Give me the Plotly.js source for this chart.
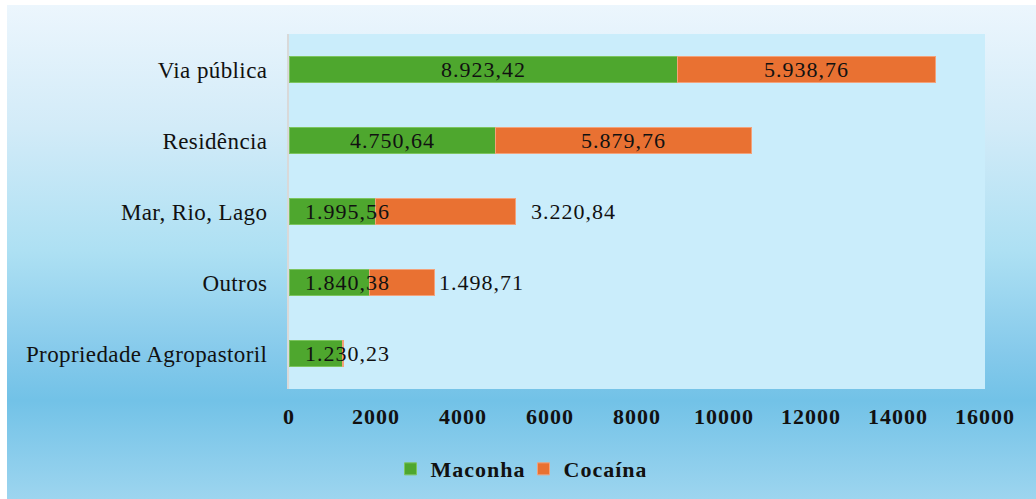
<!DOCTYPE html>
<html>
<head>
<meta charset="utf-8">
<script src="https://cdn.plot.ly/plotly-3.0.1.min.js"></script>
<style>
  html, body { margin: 0; padding: 0; background: #ffffff; }
  #wrap { position: absolute; left: 0; top: 0; width: 1036px; height: 499px; background: #ffffff; }
  #bg { position: absolute; left: 7px; top: 5px; width: 1029px; height: 494px;
        background: linear-gradient(to bottom, #ecf6fd 0%, #d2ebf8 25%, #ade0f3 50%, #86caeb 70%, #72c2e7 80%, #9dd5ef 100%); }
  #chart { position: absolute; left: 0; top: 0; width: 1036px; height: 499px; }
  #chart .ytick text { letter-spacing: 0.4px; }
  #chart .xtick text { letter-spacing: 1px; }
  #chart .annotation-text { letter-spacing: 1px; }
  #chart .legendtext { letter-spacing: 1px; }
</style>
</head>
<body>
<div id="wrap"><div id="bg"></div><div id="chart"></div></div>
<script>
// ---- data ----
const categories = ['Via pública', 'Residência', 'Mar, Rio, Lago', 'Outros', 'Propriedade Agropastoril'];
const maconha = [8923.42, 4750.64, 1995.56, 1840.38, 1230.23];
const cocaina = [5938.76, 5879.76, 3220.84, 1498.71, 22];
const seriesNames = ['Maconha', 'Cocaína'];
const xTicks = [0, 2000, 4000, 6000, 8000, 10000, 12000, 14000, 16000];

// ---- label styling (not data) ----
const macLabelMode = ['center', 'center', 'left', 'left', 'left'];
const cocLabelMode = ['center', 'center', 'outside', 'outside', 'none'];
const cocOutsideShift = [0, 0, 17, 7, 0];

function fmtBR(v) {
  const parts = v.toFixed(2).split('.');
  const intPart = parts[0].replace(/\B(?=(\d{3})+(?!\d))/g, '.');
  return intPart + ',' + parts[1];
}

const serif = 'Liberation Serif';
const green = '#4ea72e';
const orange = '#e97132';

const traces = [
  { type: 'bar', orientation: 'h', name: seriesNames[0], y: categories, x: maconha,
    marker: { color: green, line: { color: '#7cc45f', width: 1 } }, hoverinfo: 'x+y' },
  { type: 'bar', orientation: 'h', name: seriesNames[1], y: categories, x: cocaina,
    marker: { color: orange, line: { color: '#f3a27a', width: 1 } }, hoverinfo: 'x+y' }
];

const labelFont = { family: serif, size: 22, color: '#111111' };
const annotations = [];
categories.forEach((c, i) => {
  const m = macLabelMode[i];
  if (m === 'center') {
    annotations.push({ x: maconha[i] / 2, y: c, xref: 'x', yref: 'y', text: fmtBR(maconha[i]),
      showarrow: false, xanchor: 'center', font: labelFont });
  } else if (m === 'left') {
    annotations.push({ x: 0, y: c, xref: 'x', yref: 'y', text: fmtBR(maconha[i]),
      showarrow: false, xanchor: 'left', xshift: 18, font: labelFont });
  }
  const k = cocLabelMode[i];
  if (k === 'center') {
    annotations.push({ x: maconha[i] + cocaina[i] / 2, y: c, xref: 'x', yref: 'y', text: fmtBR(cocaina[i]),
      showarrow: false, xanchor: 'center', font: labelFont });
  } else if (k === 'outside') {
    annotations.push({ x: maconha[i] + cocaina[i], y: c, xref: 'x', yref: 'y', text: fmtBR(cocaina[i]),
      showarrow: false, xanchor: 'left', xshift: cocOutsideShift[i], font: labelFont });
  }
});

const layout = {
  width: 1036, height: 499,
  margin: { l: 289, r: 51, t: 34, b: 110, pad: 0 },
  paper_bgcolor: 'rgba(0,0,0,0)',
  plot_bgcolor: '#caedfb',
  barmode: 'stack',
  bargap: 0.62,
  showlegend: true,
  legend: { orientation: 'h', traceorder: 'normal', xref: 'container', yref: 'container', x: 0.5, xanchor: 'center', y: 0.06, yanchor: 'middle',
            font: { family: serif, size: 22, color: '#111111', weight: 'bold' }, bgcolor: 'rgba(0,0,0,0)', itemwidth: 30, tracegroupgap: 0 },
  xaxis: { range: [0, 16000], tickvals: xTicks, ticktext: xTicks.map(String), showgrid: false, zeroline: false,
           showline: false, ticks: '', ticklabelstandoff: 12,
           tickfont: { family: serif, size: 22, color: '#111111', weight: 'bold' }, fixedrange: true },
  yaxis: { type: 'category', categoryorder: 'array', categoryarray: categories.slice().reverse(),
           showgrid: false, zeroline: false, showline: true, linecolor: '#d9d9d9', linewidth: 2,
           ticks: '', ticklabelstandoff: 15,
           tickfont: { family: serif, size: 23, color: '#111111' }, fixedrange: true },
  annotations: annotations,
  font: { family: serif, color: '#111111' }
};

Plotly.newPlot('chart', traces, layout, { displayModeBar: false, staticPlot: true });
</script>
</body>
</html>
